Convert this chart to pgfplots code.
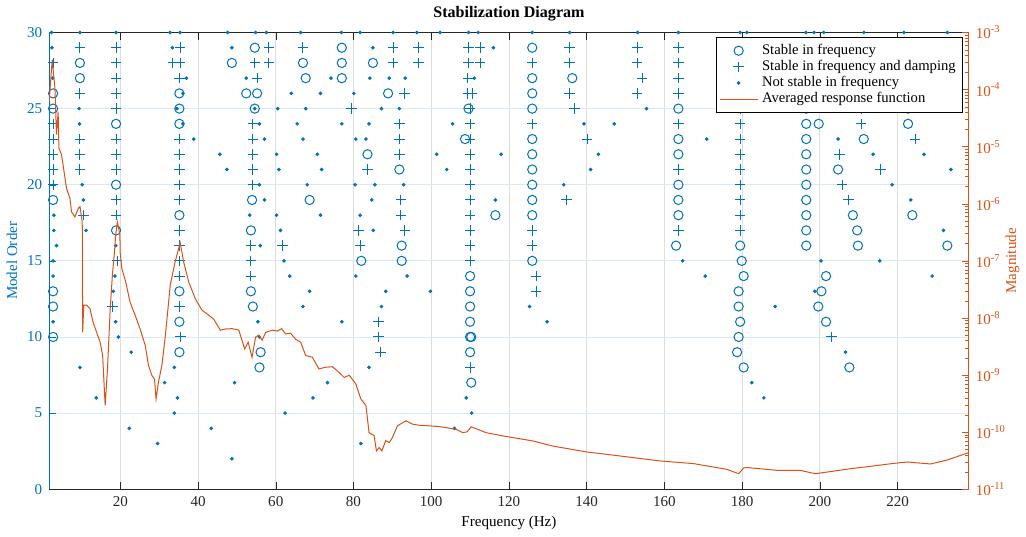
\documentclass[border=0pt]{standalone}
\usepackage{fontspec}
\setmainfont{Liberation Serif}
\usepackage{pgfplots}
\pgfplotsset{compat=1.18}
\definecolor{c1}{RGB}{0,114,189}
\definecolor{c2}{RGB}{217,83,25}
\definecolor{axgray}{RGB}{38,38,38}

\begin{document}
\begin{tikzpicture}
\pgfplotsset{
  base/.style={width=458pt,height=227.5pt,scale only axis,
    xmin=1.7,xmax=238.3,
    /pgf/number format/assume math mode=true,
    tick label style={font=\fontsize{7.5}{9}\selectfont},
    label style={font=\fontsize{7.5}{9}\selectfont},
    major tick length=3.5pt,minor tick length=2pt},
  mO/.style={only marks,mark=o,mark size=2.3pt,c1,line width=0.5pt},
  mP/.style={only marks,mark=+,mark size=2.6pt,c1,line width=0.5pt},
  mD/.style={only marks,mark=*,mark size=0.7pt,c1},
}
\begin{axis}[base,
  axis y line*=left,
  ymin=0,ymax=30,ytick={0,5,...,30},
  xtick={20,40,...,220},
  grid=major,x grid style={black!13},y grid style={c1!15},
  xlabel={Frequency (Hz)},ylabel={Model Order},
  xlabel shift=-2pt,ylabel shift=-2pt,
  ylabel style={text=c1},yticklabel style={text=c1},
  y axis line style={c1},ytick style={c1},
  x axis line style={axgray},xtick style={axgray},xticklabel style={text=axgray},
  title={\textbf{Stabilization Diagram}},title style={font=\fontsize{8}{9}\selectfont,yshift=-4pt},
]
% stable in frequency
\addplot[mO] coordinates {
(2.7,26) (2.7,25) (2.7,19) (2.7,13) (2.7,12) (2.7,10)
(9.6,28) (9.6,27) (18.9,24) (18.9,20) (18.9,17)
(35.2,26) (35.2,25) (35.2,24) (35.2,18) (35.2,13) (35.2,11) (35.2,9) (48.7,28)
(54.6,29) (77,29) (67,28) (77,28) (85,28) (67.7,27) (77,27) (52.4,26) (55.2,26) (88.9,26)
(54.6,25) (83.6,22) (91.8,21) (53.9,19) (68.7,19) (53.6,17) (92.4,16) (82,15) (92.4,15)
(53.6,13) (54.1,12) (56.1,9) (55.8,8)
(126,29) (126,27) (136.3,27) (126,26) (109.6,25) (126,25) (108.7,23) (126,23) (126,22)
(126,21) (126,20) (126,19) (116.5,18) (126,18) (126,15) (110,14) (110,13) (110,12)
(110,11) (110,10) (110.3,10) (110,9) (110.3,7)
(163.6,25) (163.6,23) (163.6,22) (163.6,20) (163.6,19) (163.6,18) (163,16) (179.5,16)
(179.9,15) (180.4,14) (179.1,13) (179.1,12) (179.5,11) (179.1,10) (178.7,9) (180.4,8)
(196.5,25) (222.7,25) (196.5,24) (199.7,24) (222.7,24) (196.5,23) (211.3,23) (196.5,22)
(196.5,21) (204.7,21) (196.5,20) (196.5,19) (196.5,18) (208.5,18) (223.8,18) (196.5,17)
(209.6,17) (196.5,16) (209.8,16) (232.8,16) (201.6,14) (200.4,13) (199.6,12) (201.6,11) (207.6,8)
};
% stable in frequency and damping
\addplot[mP] coordinates {
(2.7,28) (2.7,24) (2.7,23) (2.7,22) (2.7,21) (2.7,20)
(9.6,29) (9.6,26) (9.6,23) (9.6,22) (9.6,21) (10.5,18)
(18.9,29) (18.9,28) (18.9,27) (18.9,26) (18.9,25) (18.9,23) (18.9,22) (18.9,21) (18.9,19)
(18.9,18) (19.2,15) (18,12)
(35.4,29) (33.5,28) (35.4,28) (35.2,27) (35.2,23) (35.2,22) (35.2,21) (35.2,20) (35.2,19)
(35.2,17) (35.2,16) (35.2,15) (35.2,14) (35.2,12) (35.5,10)
(58.2,29) (67,29) (90.2,29) (96.7,29) (54.6,28) (58.2,28) (90.2,28) (96.7,28) (55.2,27)
(93.1,26) (79.5,25) (54.1,24) (91.8,24) (54.1,23) (91.8,23) (54.1,22) (91.8,22) (54.1,21)
(83.6,21) (54.1,20) (92.2,19) (92.2,18) (81.3,17) (93.2,17) (53.6,16) (61.7,16) (81.7,16)
(53.6,15) (53.6,14) (86.4,11) (86.4,10) (86.9,9)
(109.6,29) (112.6,29) (135.6,29) (109.6,28) (112.6,28) (126,28) (135.6,28) (109.4,27)
(109.4,26) (110.5,26) (135.6,26) (110,25) (136.9,25) (110,24) (126,24) (110,23) (140.1,23)
(110,22) (110,21) (110,20) (110,19) (134.8,19) (110,18) (110,17) (126,17) (110,16) (126,16)
(110,15) (127,14) (127,13) (110,8)
(153.1,29) (163.6,29) (153,28) (163.6,28) (154.3,27) (163.6,27) (153,26) (163.6,26)
(163.6,24) (179.5,25) (179.5,24) (179.5,23) (179.5,22) (163.6,21) (179.5,21) (179.5,20)
(179.5,19) (179.5,18) (163.6,17) (179.5,17)
(210.6,25) (210.6,24) (224.5,23) (205.1,22) (215.6,21) (205.7,20) (207.4,19) (203,10)
};
% not stable in frequency
\addplot[mD] coordinates {
(2.3,30) (9.6,30) (18.9,30) (32.8,30) (35.4,30) (47.6,30) (54.8,30) (57.6,30) (66.4,30)
(76.9,30) (81.7,30) (90.2,30) (96.3,30) (102.3,30) (109.6,30) (112.1,30) (126,30) (135.6,30)
(153.1,30) (163.6,30) (179.5,30) (181.2,30) (196.4,30) (198.5,30) (201,30) (211.3,30)
(221.6,30) (232.8,30)
(2.4,29) (33.4,29) (48.7,29) (85,29) (116,29)
(2.6,27) (37,27) (52.4,27) (74.2,27) (84.2,27) (89.2,27) (93.3,27) (111.1,27)
(36.1,26) (64,26) (71.5,26) (80.1,26)
(9.4,25) (34.6,25) (54.6,25) (60.5,25) (67.7,25) (87.2,25) (91.8,25) (155.4,25)
(9.5,24) (36.1,24) (55.8,24) (65.5,24) (77,24) (84,24) (105.5,24) (139.3,24) (147.1,24)
(38.9,23) (57.1,23) (67,23) (80.6,23) (83.2,23) (170.9,23) (204.7,23)
(45.6,22) (60.2,22) (70.7,22) (101.4,22) (118,22) (143,22) (213.7,22) (226.8,22)
(47.4,21) (60.8,21) (71.8,21) (104,21) (141,21) (233.7,21)
(10.2,20) (55.8,20) (68.1,20) (80.4,20) (85.5,20) (92.9,20) (134.1,20) (218.6,20)
(10.5,19) (57.1,19) (84.7,19) (116.5,19) (223.4,19)
(2.9,18) (53.3,18) (60.2,18) (71.5,18) (81.7,18)
(2.9,17) (11.2,17) (61.2,17) (85.1,17) (231.8,17)
(3.6,16) (18.8,16) (56,16)
(2.7,15) (62.1,15) (164.7,15) (200.3,15) (215.4,15)
(2.7,14) (18.6,14) (63.6,14) (80.6,14) (93.8,14) (170.5,14) (228.9,14)
(18.2,13) (68.7,13) (88.3,13) (99.8,13) (198.7,13)
(67,12) (87.2,12) (125.3,12) (188.5,12)
(2.7,11) (18.8,11) (55.4,11) (77,11) (129.8,11)
(19.5,10) (55.8,10)
(22.8,9) (206.6,9)
(9.6,8) (33.9,8) (84,8)
(31.4,7) (49.4,7) (73.3,7) (182.5,7)
(13.8,6) (34.7,6) (69.6,6) (109,6) (185.6,6)
(33.9,5) (62.4,5) (110.4,5)
(22.3,4) (43.4,4) (106,4)
(29.6,3) (81.9,3)
(48.7,2)
};
\end{axis}
\begin{axis}[base,
  axis y line*=right,axis x line=none,
  ymode=log,log basis y=10,ymin=1e-11,ymax=1e-3,
  ylabel={Magnitude},ylabel style={text=c2},ylabel shift=-7pt,
  y axis line style={c2},ytick style={c2},yticklabel style={text=c2},
  yticklabel={10\textsuperscript{\pgfmathprintnumber{\tick}}},
  legend style={at={(0.994,0.991)},anchor=north east,draw=black,fill=white,
    font=\fontsize{7.3}{8}\selectfont,row sep=-2.6pt,inner sep=1.5pt,
    cells={anchor=west},text=black},
  legend image code/.code={\draw[mark repeat=2,mark phase=2,#1]
    plot coordinates {(0cm,0cm) (0.33cm,0cm) (0.66cm,0cm)};},
]
\addlegendimage{mO}
\addlegendentry{Stable in frequency}
\addlegendimage{mP}
\addlegendentry{Stable in frequency and damping}
\addlegendimage{mD}
\addlegendentry{Not stable in frequency}
\addplot[c2,line width=0.5pt] coordinates {
(1.7,6.2e-5) (2.47,3.35e-4) (3.17,1.06e-4) (3.58,1.63e-5) (4.0,4.1e-5) (4.2,9.4e-6)
(4.87,7.3e-6) (6.16,1.86e-6) (7.04,1.24e-6) (7.45,7.2e-7) (8.33,5.9e-7) (9.18,8.3e-7)
(9.62,8.9e-7) (10.2,4.8e-7) (10.3,5.6e-9) (10.6,1.68e-8) (11.3,1.68e-8) (12.2,1.45e-8)
(13.0,8.4e-9) (14.8,3.76e-9) (15.45,2.2e-9) (16.1,2.93e-10) (16.7,1.28e-9) (17.4,1.45e-8)
(17.96,5.65e-8) (18.5,1.43e-7) (18.8,2.85e-7) (19.25,4.8e-7) (19.9,2.85e-7) (19.95,1.43e-7)
(20.4,7.3e-8) (21.4,4.26e-8) (22.5,1.9e-8) (23.8,1.12e-8) (25.1,6.4e-9) (26.4,3.33e-9)
(27.25,1.48e-9) (28.1,9.9e-10) (28.8,8.5e-10) (29.2,3.8e-10) (29.8,7.45e-10) (30.7,1.48e-9)
(31.6,5.0e-9) (32.85,3.77e-8) (34.1,9.6e-8) (35.4,2.07e-7) (36.3,9.6e-8) (37.6,4.26e-8)
(39.3,2.17e-8) (41.0,1.37e-8) (42.7,1.12e-8) (44.0,9.6e-9) (45.75,6.1e-9) (47.0,6.4e-9)
(48.75,6.5e-9) (50.5,6.1e-9) (52.0,2.87e-9) (52.9,3.76e-9) (53.9,2.05e-9) (54.8,4.6e-9)
(55.6,5.0e-9) (56.5,4.07e-9) (57.4,5.6e-9) (59.1,6.1e-9) (60.4,5.9e-9) (61.5,6.5e-9)
(62.5,5.26e-9) (63.8,5.4e-9) (65.1,4.24e-9) (66.4,3.76e-9) (67.7,2.2e-9) (69.4,2.05e-9)
(71.1,1.28e-9) (72.85,1.37e-9) (74.6,1.4e-9) (76.3,1.11e-9) (77.6,9.1e-10) (78.9,9.9e-10)
(80.6,6.95e-10) (81.9,3.8e-10) (83.2,2.93e-10) (84.0,9.8e-11) (85.3,8.7e-11) (85.9,4.7e-11)
(86.6,5.36e-11) (87.3,4.7e-11) (88.3,7.1e-11) (89.2,6.56e-11) (90.0,8.0e-11) (91.3,1.29e-10)
(93.5,1.58e-10) (95.2,1.38e-10) (96.9,1.32e-10) (99.5,1.29e-10) (102.1,1.25e-10)
(103.8,1.2e-10) (106.4,1.12e-10) (108.1,9.8e-11) (109.2,1.01e-10) (110.3,1.24e-10)
(114.1,9.8e-11) (118.4,8.6e-11) (126.2,7.0e-11) (131.3,5.7e-11) (140.0,4.5e-11)
(148.5,3.83e-11) (158.8,3.13e-11) (167.5,2.81e-11) (176.1,2.23e-11) (179.1,1.87e-11)
(180.4,2.36e-11) (181.2,2.4e-11) (189.0,2.14e-11) (195.0,2.14e-11) (197.6,1.95e-11)
(198.9,1.87e-11) (201.9,2.0e-11) (207.9,2.29e-11) (212.2,2.48e-11) (219.1,2.84e-11)
(222.5,3.0e-11) (228.5,2.77e-11) (232.8,3.26e-11) (238.3,4.38e-11)
};
\addlegendentry{Averaged response function}
\end{axis}
\end{tikzpicture}
\end{document}
